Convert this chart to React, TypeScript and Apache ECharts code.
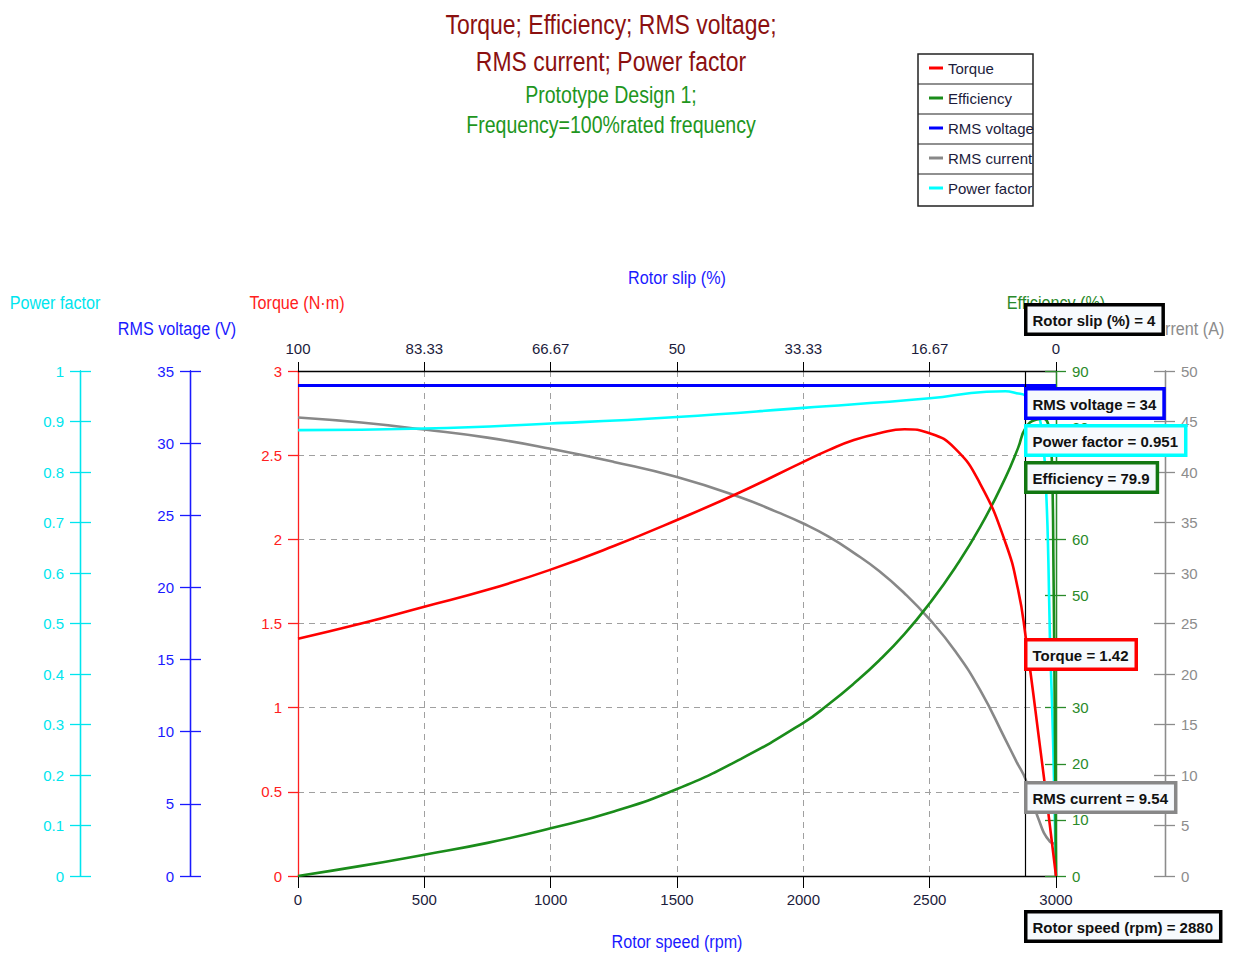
import React, { useEffect, useRef } from "react";
import * as echarts from "echarts";

const F = "'Liberation Sans', Arial, Helvetica, sans-serif";

// ---- Data ----
const torqueSpeed = [0, 250, 500, 750, 1000, 1250, 1500, 1750, 2000, 2100, 2200, 2300, 2400, 2500, 2600, 2700, 2800, 2850, 2880, 2940, 2975, 3000];
const torqueVal = [1.41, 1.5, 1.6, 1.7, 1.82, 1.96, 2.115, 2.28, 2.46, 2.53, 2.59, 2.63, 2.654, 2.63, 2.54, 2.33, 1.98, 1.7, 1.42, 0.73, 0.31, 0];

const effSpeed = [0, 250, 500, 750, 1000, 1250, 1500, 1750, 2000, 2100, 2200, 2300, 2400, 2500, 2600, 2700, 2800, 2850, 2880, 2920, 2950, 2970, 2980, 2986, 2990, 2995, 3000];
const effVal = [0, 1.8, 3.8, 5.9, 8.5, 11.5, 15.5, 20.8, 27.3, 30.6, 34.3, 38.4, 43.1, 48.6, 54.9, 62.2, 71.0, 76.3, 79.9, 81.3, 81.5, 80.4, 77, 70, 55, 30, 0];

const voltSpeed = [0, 1000, 2000, 3000];
const voltVal = [34, 34, 34, 34];

const curSpeed = [0, 250, 500, 750, 1000, 1250, 1500, 1750, 1900, 2000, 2100, 2200, 2300, 2400, 2500, 2600, 2700, 2800, 2844, 2880, 2927, 2976, 3000];
const curVal = [45.4, 44.9, 44.2, 43.4, 42.3, 41.0, 39.5, 37.5, 36.0, 34.9, 33.6, 32.0, 30.2, 28.0, 25.4, 22.3, 18.4, 13.5, 11.3, 9.54, 5.9, 3.4, 3.2];

const pfSpeed = [0, 500, 1000, 1500, 2000, 2500, 2725, 2800, 2844, 2880, 2920, 2950, 2962, 2970, 2976, 2985, 2993, 3000];
const pfVal = [0.883, 0.886, 0.896, 0.909, 0.927, 0.946, 0.959, 0.96, 0.956, 0.951, 0.93, 0.85, 0.75, 0.62, 0.47, 0.33, 0.17, 0];

const cursorSpeed = 2880;
const cursorLabels = [
  { text: "Rotor slip (%) = 4", color: "#000000", y: 305 },
  { text: "RMS voltage = 34", color: "#0000ff", y: 389 },
  { text: "Power factor = 0.951", color: "#00ffff", y: 426 },
  { text: "Efficiency = 79.9", color: "#117711", y: 463 },
  { text: "Torque = 1.42", color: "#ff0000", y: 640 },
  { text: "RMS current = 9.54", color: "#888888", y: 783 },
  { text: "Rotor speed (rpm) = 2880", color: "#000000", y: 912 },
];

const seriesNames = ["Torque", "Efficiency", "RMS voltage", "RMS current", "Power factor"];
const seriesColors = ["#ff0000", "#1a8c1a", "#0000ff", "#888888", "#00ffff"];

const zip = (a: number[], b: number[]) => a.map((v, i) => [v, b[i]]);

const C_PF = "#00e5ee";
const C_V = "#1a1aff";
const C_T = "#ff2020";
const C_E = "#2a8a2a";
const C_I = "#8c8c8c";
const C_TXT = "#1c1c3c";

function yAx(opts: any) {
  const { color, offset, position, min, max, interval, inside, labels, split, fmt } = opts;
  return {
    type: "value",
    position,
    offset,
    min,
    max,
    interval,
    axisLine: { show: true, onZero: false, lineStyle: { color, width: 1.3 } },
    axisTick: { show: true, inside, length: inside ? 11 : 10, lineStyle: { color, width: 1.3 } },
    axisLabel: {
      show: labels,
      color,
      fontFamily: F,
      fontSize: 15,
      margin: 16,
      formatter: fmt,
    },
    splitLine: split
      ? { show: true, lineStyle: { color: "#a0a0a0", type: [6, 5], width: 1 } }
      : { show: false },
  };
}

export default function App() {
  const ref = useRef<HTMLDivElement>(null);
  useEffect(() => {
    if (!ref.current) return;
    const chart = echarts.init(ref.current, undefined, { renderer: "svg" });

    const lineSeries = (name: string, color: string, y: number, data: number[][], extra: any = {}) => ({
      name,
      type: "line",
      xAxisIndex: 0,
      yAxisIndex: y,
      data,
      showSymbol: false,
      symbol: "none",
      smooth: 0.5,
      lineStyle: { color, width: 2.6 },
      itemStyle: { color },
      ...extra,
    });

    const graphics: any[] = [];
    const txt = (t: string, x: number, y: number, color: string, size: number, sx: number) => ({
      type: "text",
      x,
      y,
      scaleX: sx,
      style: { text: t, fill: color, font: `${size}px ${F}`, textAlign: "center", textVerticalAlign: "middle" },
    });
    // Title
    graphics.push(
      txt("Torque; Efficiency; RMS voltage;", 611, 24, "#8b1010", 27, 0.85),
      txt("RMS current; Power factor", 611, 61, "#8b1010", 27, 0.85),
      txt("Prototype Design 1;", 611, 95, "#1e961e", 23, 0.85),
      txt("Frequency=100%rated frequency", 611, 125, "#1e961e", 23, 0.85)
    );
    // Legend frame
    graphics.push({ type: "rect", shape: { x: 918, y: 54, width: 115, height: 152 }, style: { fill: "none", stroke: "#222", lineWidth: 1.5 } });
    [84, 114, 144, 174].forEach((yy) =>
      graphics.push({ type: "line", shape: { x1: 918, y1: yy, x2: 1033, y2: yy }, style: { stroke: "#222", lineWidth: 1.2 } })
    );
    // Axis names
    const names = [
      { t: "Power factor", x: 55, y: 303, c: C_PF },
      { t: "RMS voltage (V)", x: 177, y: 329, c: C_V },
      { t: "Torque (N·m)", x: 297, y: 303, c: C_T },
      { t: "Efficiency (%)", x: 1056, y: 303, c: C_E },
      { t: "RMS current (A)", x: 1166, y: 329, c: C_I },
      { t: "Rotor slip (%)", x: 677, y: 278, c: C_V },
      { t: "Rotor speed (rpm)", x: 677, y: 942, c: C_V },
    ];
    names.forEach((n) => graphics.push(txt(n.t, n.x, n.y, n.c, 19, 0.85)));
    // Cursor value boxes
    cursorLabels.forEach((b) =>
      graphics.push({
        type: "text",
        x: 1027.5,
        y: b.y + 1.5,
        z: 100,
        style: {
          text: b.text,
          fill: "#111",
          font: `bold 15px ${F}`,
          backgroundColor: "#f7fafd",
          borderColor: b.color,
          borderWidth: 3.5,
          padding: [6, 6, 5, 5],
          textVerticalAlign: "top",
        },
      })
    );

    const option: any = {
      animation: false,
      backgroundColor: "#ffffff",
      grid: { left: 298, top: 371, width: 758, height: 505, containLabel: false },
      legend: {
        show: true,
        orient: "vertical",
        left: 924,
        top: 53,
        itemGap: 10,
        itemWidth: 14,
        itemHeight: 3,
        icon: "rect",
        selectedMode: false,
        data: seriesNames,
        textStyle: { color: C_TXT, fontFamily: F, fontSize: 15, lineHeight: 20, padding: [0, 0, 0, 0] },
      },
      xAxis: [
        {
          type: "value",
          position: "bottom",
          min: 0,
          max: 3000,
          interval: 500,
          axisLine: { show: true, onZero: false, lineStyle: { color: "#000", width: 1.3 } },
          axisTick: { show: true, length: 10, lineStyle: { color: "#000" } },
          axisLabel: { color: C_TXT, fontFamily: F, fontSize: 15, margin: 16, formatter: (v: number) => String(v) },
          splitLine: { show: true, lineStyle: { color: "#a0a0a0", type: [6, 5], width: 1 } },
        },
        {
          type: "value",
          position: "top",
          min: 0,
          max: 100,
          inverse: true,
          interval: 100 / 6,
          axisLine: { show: true, onZero: false, lineStyle: { color: "#000", width: 1.3 } },
          axisTick: { show: true, length: 9, lineStyle: { color: "#000" } },
          axisLabel: {
            color: C_TXT,
            fontFamily: F,
            fontSize: 15,
            margin: 15,
            formatter: (v: number) => String(Math.round(v * 100) / 100),
          },
          splitLine: { show: false },
        },
        {
          type: "value",
          position: "top",
          min: 0,
          max: 100,
          inverse: true,
          interval: 100 / 6,
          axisLine: { show: false },
          axisTick: { show: true, inside: true, length: 12, lineStyle: { color: "#000" } },
          axisLabel: { show: false },
          splitLine: { show: false },
        },
      ],
      yAxis: [
        yAx({ color: C_T, offset: 0, position: "left", min: 0, max: 3, interval: 0.5, inside: false, labels: true, split: true }),
        yAx({ color: C_V, offset: 108, position: "left", min: 0, max: 35, interval: 5, inside: false, labels: true, split: false }),
        yAx({ color: C_PF, offset: 218, position: "left", min: 0, max: 1, interval: 0.1, inside: false, labels: true, split: false, fmt: (v: number) => String(Math.round(v * 10) / 10) }),
        yAx({ color: C_E, offset: 0, position: "right", min: 0, max: 90, interval: 10, inside: false, labels: true, split: false }),
        yAx({ color: C_I, offset: 109, position: "right", min: 0, max: 50, interval: 5, inside: false, labels: true, split: false }),
        yAx({ color: C_V, offset: 108, position: "left", min: 0, max: 35, interval: 5, inside: true, labels: false, split: false }),
        yAx({ color: C_PF, offset: 218, position: "left", min: 0, max: 1, interval: 0.1, inside: true, labels: false, split: false }),
        yAx({ color: C_E, offset: 0, position: "right", min: 0, max: 90, interval: 10, inside: true, labels: false, split: false }),
        yAx({ color: C_I, offset: 109, position: "right", min: 0, max: 50, interval: 5, inside: true, labels: false, split: false }),
      ],
      series: [
        lineSeries(seriesNames[0], seriesColors[0], 0, zip(torqueSpeed, torqueVal), {
          z: 5,
          markLine: {
            silent: true,
            symbol: "none",
            label: { show: false },
            lineStyle: { color: "#000", width: 1.2, type: "solid" },
            data: [{ xAxis: cursorSpeed }],
          },
        }),
        lineSeries(seriesNames[1], seriesColors[1], 3, zip(effSpeed, effVal), { z: 4 }),
        lineSeries(seriesNames[2], seriesColors[2], 1, zip(voltSpeed, voltVal), { z: 3, smooth: false, lineStyle: { color: seriesColors[2], width: 3 } }),
        lineSeries(seriesNames[3], seriesColors[3], 4, zip(curSpeed, curVal), { z: 3 }),
        lineSeries(seriesNames[4], seriesColors[4], 2, zip(pfSpeed, pfVal), { z: 3 }),
      ],
      graphic: graphics,
    };
    chart.setOption(option);
    return () => chart.dispose();
  }, []);
  return (
    <div
      ref={ref}
      style={{ position: "absolute", left: 0, top: 0, width: 1239, height: 955, background: "#fff" }}
    />
  );
}
